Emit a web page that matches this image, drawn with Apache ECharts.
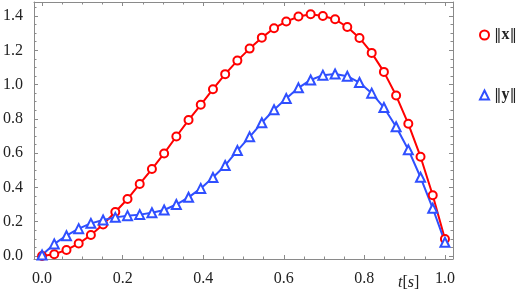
<!DOCTYPE html>
<html>
<head>
<meta charset="utf-8">
<script src="https://cdn.jsdelivr.net/npm/echarts@6/dist/echarts.min.js"></script>
<style>html,body{margin:0;padding:0;background:#fff}#c{width:523px;height:293px}</style>
</head>
<body>
<div id="c"></div>
<script>
const tValues = [0, 0.0303, 0.0606, 0.0909, 0.1212, 0.1515, 0.1818, 0.2121, 0.2424, 0.2727, 0.3030, 0.3333, 0.3636, 0.3939, 0.4242, 0.4545, 0.4848, 0.5152, 0.5455, 0.5758, 0.6061, 0.6364, 0.6667, 0.6970, 0.7273, 0.7576, 0.7879, 0.8182, 0.8485, 0.8788, 0.9091, 0.9394, 0.9697, 1.0];
const xNorm = [0.0, 0.01, 0.035, 0.072, 0.122, 0.183, 0.256, 0.332, 0.42, 0.507, 0.598, 0.697, 0.793, 0.882, 0.973, 1.061, 1.14, 1.21, 1.274, 1.329, 1.368, 1.397, 1.41, 1.40, 1.381, 1.336, 1.272, 1.185, 1.074, 0.936, 0.771, 0.579, 0.354, 0.099];
const yNorm = [0.005, 0.07, 0.118, 0.159, 0.19, 0.21, 0.225, 0.235, 0.241, 0.252, 0.268, 0.30, 0.342, 0.394, 0.458, 0.528, 0.615, 0.695, 0.777, 0.853, 0.919, 0.981, 1.027, 1.055, 1.062, 1.049, 1.012, 0.95, 0.866, 0.754, 0.62, 0.459, 0.278, 0.08];
const xMajorTicks = [0, 0.2, 0.4, 0.6, 0.8, 1.0];
const xMinorTicks = [0, 0.05, 0.1, 0.15, 0.2, 0.25, 0.3, 0.35, 0.4, 0.45, 0.5, 0.55, 0.6, 0.65, 0.7, 0.75, 0.8, 0.85, 0.9, 0.95, 1.0];
const yMajorTicks = [0, 0.2, 0.4, 0.6, 0.8, 1.0, 1.2, 1.4];
const yMinorTicks = [0, 0.05, 0.1, 0.15, 0.2, 0.25, 0.3, 0.35, 0.4, 0.45, 0.5, 0.55, 0.6, 0.65, 0.7, 0.75, 0.8, 0.85, 0.9, 0.95, 1.0, 1.05, 1.1, 1.15, 1.2, 1.25, 1.3, 1.35, 1.4, 1.45];

const RED = '#ff0000', BLUE = '#2f4fff', FRAME = '#8a8a8a';
const FONT = "'Liberation Serif', 'DejaVu Serif', serif";
const X_RANGE = [-0.02, 1.02], Y_RANGE = [-0.018, 1.482];

function mkAxis(kind, pos, ticks, len, withLabel, showLine) {
  const range = kind === 'x' ? X_RANGE : Y_RANGE;
  return {
    type: 'value', position: pos, min: range[0], max: range[1],
    axisLine: { show: showLine, onZero: false, lineStyle: { color: FRAME, width: 1 } },
    axisTick: { show: true, inside: true, length: len, customValues: ticks, lineStyle: { color: FRAME, width: 1 } },
    axisLabel: withLabel ? {
      show: true, customValues: ticks, fontFamily: FONT, fontSize: 16, color: '#222',
      margin: kind === 'x' ? 12 : 11, formatter: v => v.toFixed(1)
    } : { show: false },
    splitLine: { show: false }
  };
}

const chart = echarts.init(document.getElementById('c'), null, { renderer: 'canvas' });
chart.setOption({
  animation: false,
  grid: { left: 34, top: 2, right: 70, bottom: 34, containLabel: false },
  xAxis: [
    mkAxis('x', 'bottom', xMajorTicks, 4, true, true),
    mkAxis('x', 'bottom', xMinorTicks, 2.5, false, false),
    mkAxis('x', 'top', xMajorTicks, 4, false, true),
    mkAxis('x', 'top', xMinorTicks, 2.5, false, false)
  ],
  yAxis: [
    mkAxis('y', 'left', yMajorTicks, 4, true, true),
    mkAxis('y', 'left', yMinorTicks, 2.5, false, false),
    mkAxis('y', 'right', yMajorTicks, 4, false, true),
    mkAxis('y', 'right', yMinorTicks, 2.5, false, false)
  ],
  legend: {
    orient: 'vertical', left: 474, top: 22, itemWidth: 9, itemHeight: 9, itemGap: 44,
    formatter: n => '{n|‖}{b|' + n + '}{n|‖}',
    textStyle: { fontFamily: FONT, fontSize: 16, color: '#222',
      rich: { n: { fontFamily: "'DejaVu Serif', serif", fontSize: 15, color: '#222' }, b: { fontFamily: FONT, fontSize: 16, fontWeight: 'bold', color: '#222' } } },
    data: [
      { name: 'x', icon: 'circle', itemStyle: { color: '#fff', borderColor: RED, borderWidth: 2 } },
      { name: 'y', icon: 'triangle', itemStyle: { color: '#fff', borderColor: BLUE, borderWidth: 2 } }
    ]
  },
  graphic: [{
    type: 'text', left: 398, top: 275,
    style: { text: '{i|t}{n|[}{i|s}{n|]}', rich: {
      i: { fontFamily: FONT, fontSize: 16, fontStyle: 'italic', fill: '#222' },
      n: { fontFamily: FONT, fontSize: 16, fill: '#222' } } }
  }],
  series: [
    { name: 'x', type: 'line', xAxisIndex: 0, yAxisIndex: 0,
      data: tValues.map((t, i) => [t, xNorm[i]]),
      symbol: 'circle', symbolSize: 8, showAllSymbol: true,
      lineStyle: { color: RED, width: 2 },
      itemStyle: { color: '#fff', borderColor: RED, borderWidth: 2 } },
    { name: 'y', type: 'line', xAxisIndex: 0, yAxisIndex: 0,
      data: tValues.map((t, i) => [t, yNorm[i]]),
      symbol: 'triangle', symbolSize: 9, showAllSymbol: true,
      lineStyle: { color: BLUE, width: 2 },
      itemStyle: { color: '#fff', borderColor: BLUE, borderWidth: 2 } }
  ]
});
</script>
</body>
</html>
